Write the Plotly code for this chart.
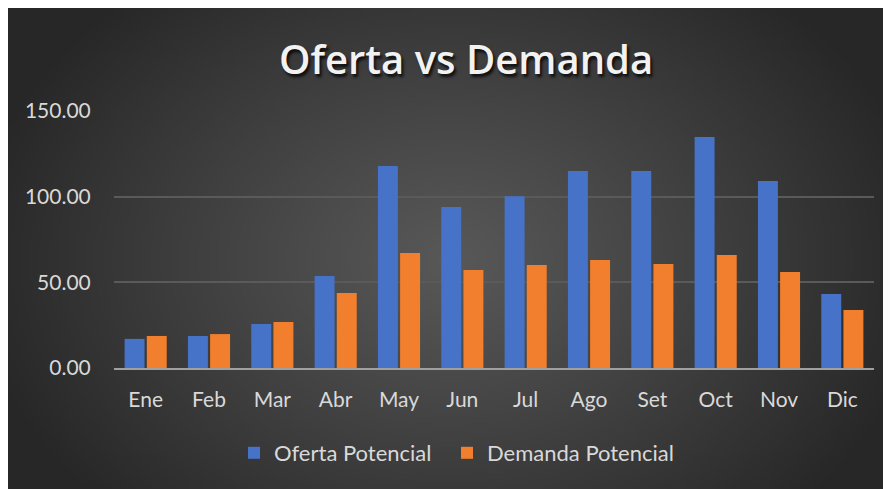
import base64
import struct
import zlib

import numpy as np
import plotly.graph_objects as go

meses = ["Ene", "Feb", "Mar", "Abr", "May", "Jun", "Jul", "Ago", "Set", "Oct", "Nov", "Dic"]
oferta = [17.0, 18.7, 25.7, 53.7, 117.9, 93.9, 100.3, 115.0, 115.0, 134.8, 109.1, 43.2]
demanda = [18.7, 19.8, 26.8, 43.8, 67.1, 57.2, 60.1, 63.0, 60.7, 65.9, 56.0, 33.8]
y_ticks = [0, 50, 100, 150]

# page has an 8px body margin, so the figure is drawn at page offset (8, 8)
OFF = 8
W, H = 891 - OFF, 489 - OFF
# plot area, page pixels
L, R, T, B = 114 - OFF, 874 - OFF, 111 - OFF, 368 - OFF


def px_x(p):
    return (p - OFF - L) / (R - L)


def px_y(p):
    return (B - (p - OFF)) / (B - T)


def png_uri(arr):
    h, w, _ = arr.shape
    raw = b"".join(b"\x00" + arr[i].tobytes() for i in range(h))

    def chunk(tag, data):
        c = tag + data
        return struct.pack(">I", len(data)) + c + struct.pack(">I", zlib.crc32(c) & 0xffffffff)

    png = b"\x89PNG\r\n\x1a\n" + chunk(b"IHDR", struct.pack(">IIBBBBB", w, h, 8, 2, 0, 0, 0))
    png += chunk(b"IDAT", zlib.compress(raw, 9)) + chunk(b"IEND", b"")
    return "data:image/png;base64," + base64.b64encode(png).decode()


# radial gradient background (Excel dark style)
gw, gh = 300, 164
yy, xx = np.mgrid[0:gh, 0:gw]
d = np.sqrt(((xx - gw * 0.5) / (gw * 0.55)) ** 2 + ((yy - gh * 0.52) / (gh * 0.75)) ** 2)
d = np.clip(d, 0, 1)
c = (0x58 + (0x27 - 0x58) * d ** 1.1).astype(np.uint8)
bg = np.dstack([c, c, c])

fig = go.Figure()
fig.add_trace(go.Bar(x=meses, y=oferta, name="Oferta Potencial", legend="legend",
                     marker=dict(color="#4673c8", line=dict(width=0))))
fig.add_trace(go.Bar(x=meses, y=demanda, name="Demanda Potencial", legend="legend2",
                     marker=dict(color="#f27f2e", line=dict(width=0))))

fig.add_layout_image(dict(source=png_uri(bg), xref="paper", yref="paper",
                          x=-L / (R - L), y=1 + T / (B - T), sizex=W / (R - L), sizey=H / (B - T),
                          xanchor="left", yanchor="top", sizing="stretch", layer="below"))

leg = dict(orientation="h", y=px_y(453), xanchor="left", yanchor="middle",
           font=dict(size=22, color="#d9d9d9"), bgcolor="rgba(0,0,0,0)", itemwidth=30)

fig.update_layout(
    width=W, height=H,
    margin=dict(l=L, r=W - R, t=T, b=H - B),
    paper_bgcolor="#2a2a2a", plot_bgcolor="rgba(0,0,0,0)",
    barmode="group", bargap=0.3, bargroupgap=0.1,
    font=dict(family="Lato", size=21, color="#d9d9d9"),
    showlegend=True,
    legend=dict(leg, x=px_x(234)),
    legend2=dict(leg, x=px_x(447)),
    annotations=[dict(text="Oferta vs Demanda", xref="paper", yref="paper",
                      x=px_x(466), y=px_y(58), xanchor="center", yanchor="middle", showarrow=False,
                      font=dict(family="Open Sans", size=40, color="#f2f2f2", weight=600,
                                shadow="2px 3px 3px rgba(0,0,0,0.8)"))],
)
fig.update_xaxes(showgrid=False, showline=True, linecolor="#a0a0a0", linewidth=2,
                 ticks="outside", ticklen=12, tickcolor="rgba(0,0,0,0)",
                 tickfont=dict(size=21, color="#d9d9d9"), range=[-0.5, 11.5])
fig.update_yaxes(range=[0, 150], tickvals=y_ticks, tickformat=".2f",
                 showgrid=True, gridcolor="#5a5a5a", gridwidth=2, zeroline=False,
                 ticks="outside", ticklen=18, tickcolor="rgba(0,0,0,0)",
                 tickfont=dict(size=21, color="#d9d9d9"))

fig.write_html("out.html")
